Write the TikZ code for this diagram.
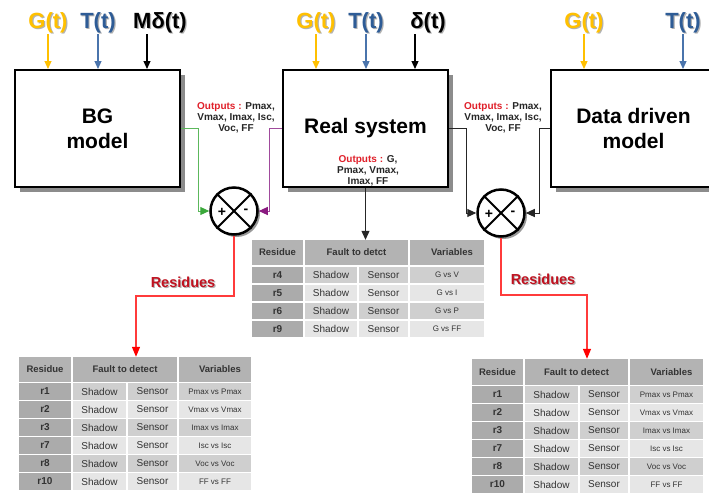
\documentclass[tikz,border=0pt]{standalone}
\usepackage{fontspec}
\setmainfont{Liberation Sans}
\usetikzlibrary{arrows.meta,calc,shadows}
\definecolor{gy}{HTML}{FFC000}
\definecolor{tb}{HTML}{2E5C96}
\definecolor{tbl}{HTML}{4A74AC}
\definecolor{gl}{HTML}{5CB85C}
\definecolor{gla}{HTML}{3AA83A}
\definecolor{mg}{HTML}{A04A9C}
\definecolor{mga}{HTML}{8A1A80}
\definecolor{rd}{HTML}{FF3B3B}
\definecolor{rdt}{HTML}{C0111F}
\definecolor{outr}{HTML}{E0202A}
\definecolor{hdr}{HTML}{B3B3B3}
\definecolor{rcol}{HTML}{ABABAB}
\definecolor{rowd}{HTML}{CFCFCF}
\definecolor{rowl}{HTML}{E6E6E6}
\definecolor{dk}{HTML}{333333}
\tikzset{
 blk/.style={draw, line width=2pt, fill=white, minimum width=165, minimum height=117, align=center,
   font=\bfseries\fontsize{21}{25}\selectfont,
   drop shadow={shadow xshift=5pt, shadow yshift=-5pt, opacity=1, fill=black!45}},
 inlab/.style={font=\bfseries\fontsize{22}{24}\selectfont, inner sep=1pt},
 labsh/.style={inlab, text=black!30},
 inarr/.style={line width=1.2pt, -{Triangle[length=8pt,width=7pt]}},
 outlab/.style={font=\bfseries\fontsize{10}{10.8}\selectfont, align=center, text=black!85, inner sep=0pt},
 sumc/.style={circle, draw, line width=2.5pt, fill=white, minimum size=47, inner sep=0pt,
   drop shadow={shadow xshift=2.5pt, shadow yshift=-2.5pt, opacity=1, fill=black!40}},
 conn/.style={line width=1pt},
 tip/.style={-{Triangle[length=9pt,width=8pt]}},
 redline/.style={line width=1.3pt, rd, -{Triangle[length=10pt,width=8pt,fill=red,color=red]}},
 reslab/.style={font=\bfseries\fontsize{14.5}{16}\selectfont, text=rdt},
 ressh/.style={font=\bfseries\fontsize{14.5}{16}\selectfont, text=black!30},
 tcellst/.style={inner sep=0pt, outer sep=0pt, text=dk, font=\fontsize{10}{12}\selectfont},
 pm/.style={font=\bfseries\fontsize{14}{14}\selectfont, inner sep=0pt}
}
\newcommand\tcell[7]{%
 \node[tcellst, fill=#6, minimum width={#4-#2-1.6}, minimum height={#5-#3-1.6}] (#1) at ({(#2+#4)/2},{(#3+#5)/2}) {#7};}
\newcommand\trow[6]{%
 \tcell{#1a}{\xa}{#2}{\xb}{#3}{rcol}{\bfseries #4}%
 \tcell{#1b}{\xb}{#2}{\xc}{#3}{#5}{Shadow}%
 \tcell{#1c}{\xc}{#2}{\xd}{#3}{#5}{Sensor}%
 \tcell{#1d}{\xd}{#2}{\xe}{#3}{#5}{\fontsize{8}{9}\selectfont #6}}
\newcommand\thead[4]{%
 \tcell{#1a}{\xa}{#2}{\xb}{#3}{hdr}{\bfseries\fontsize{9.5}{11}\selectfont Residue}%
 \tcell{#1b}{\xb}{#2}{\xd}{#3}{hdr}{\bfseries\fontsize{9.5}{11}\selectfont #4}%
 \tcell{#1d}{\xd}{#2}{\xe}{#3}{hdr}{\hspace*{10pt}\bfseries\fontsize{9.5}{11}\selectfont Variables}}
\begin{document}
\begin{tikzpicture}[x=1pt,y=-1pt]
\useasboundingbox (0,0) rectangle (709,493);
\clip (0,0) rectangle (709,493);
\fill[white] (0,0) rectangle (709,493);

% blocks
\node[blk] (bg) at (97.5,128.5) {BG\\model};
\node[blk] (real) at (365.5,128.5) {Real system};
\node[blk] (data) at (633.5,128.5) {Data driven\\model};

% input labels
\node[labsh] (gBGs) at (49.2,24.2) {G(t)};
\node[inlab, text=gy] (gBG) at (48,23) {G(t)};
\node[labsh] (tBGs) at (99.2,24.2) {T(t)};
\node[inlab, text=tb] (tBG) at (98,23) {T(t)};
\node[labsh] (mdBGs) at (161.2,24.2) {Mδ(t)};
\node[inlab] (mdBG) at (160,23) {Mδ(t)};

\node[labsh] (gRSs) at (317.2,24.2) {G(t)};
\node[inlab, text=gy] (gRS) at (316,23) {G(t)};
\node[labsh] (tRSs) at (367.2,24.2) {T(t)};
\node[inlab, text=tb] (tRS) at (366,23) {T(t)};
\node[labsh] (dRSs) at (429.2,24.2) {δ(t)};
\node[inlab] (dRS) at (428,23) {δ(t)};

\node[labsh] (gDDs) at (585.2,24.2) {G(t)};
\node[inlab, text=gy] (gDD) at (584,23) {G(t)};
\node[labsh] (tDDs) at (684.2,24.2) {T(t)};
\node[inlab, text=tb] (tDD) at (683,23) {T(t)};

\coordinate (mdA) at ($(mdBG.south)+(-13,0)$);
\coordinate (dA) at ($(dRS.south)+(-13,0)$);

\draw[inarr, gy] (gBG.south) -- (gBG.south |- bg.north);
\draw[inarr, tbl] (tBG.south) -- (tBG.south |- bg.north);
\draw[inarr] (mdA) -- (mdA |- bg.north);
\draw[inarr, gy] (gRS.south) -- (gRS.south |- real.north);
\draw[inarr, tbl] (tRS.south) -- (tRS.south |- real.north);
\draw[inarr] (dA) -- (dA |- real.north);
\draw[inarr, gy] (gDD.south) -- (gDD.south |- data.north);
\draw[inarr, tbl] (tDD.south) -- (tDD.south |- data.north);

% output labels
\node[outlab] (outL) at (236,118) {{\color{outr}Outputs :} Pmax,\\Vmax, Imax, Isc,\\Voc, FF};
\node[outlab] (outR) at (503,118) {{\color{outr}Outputs :} Pmax,\\Vmax, Imax, Isc,\\Voc, FF};
\node[outlab] (outB) at (368,171) {{\color{outr}Outputs :} G,\\Pmax, Vmax,\\Imax, FF};

% summing junctions
\node[sumc] (c1) at (234,211) {};
\node[sumc] (c2) at (501,213) {};
\foreach \c in {c1,c2}{
  \draw[line width=2pt] (\c.north west) -- (\c.south east);
  \draw[line width=2pt] (\c.north east) -- (\c.south west);
}
\node[pm] (p1) at ($(c1.center)+(-12,1)$) {+};
\node[pm] (m1) at ($(c1.center)+(12,0)$) {-};
\node[pm] (p2) at ($(c2.center)+(-12,1)$) {+};
\node[pm] (m2) at ($(c2.center)+(12,0)$) {-};

% connectors to junctions
\draw[conn, gl, -{Triangle[length=9pt,width=8pt,color=gla]}] (bg.east) -- ++(17,0) |- (c1.west);
\draw[conn, mg, -{Triangle[length=9pt,width=8pt,color=mga]}] (real.west) -- ++(-13,0) |- (c1.east);
\draw[conn, black!85, tip] (real.east) -- ++(17,0) |- (c2.west);
\draw[conn, black!85, tip] (data.west) -- ++(-11,0) |- (c2.east);

% tables
% middle
\def\xa{251}\def\xb{304}\def\xc{358}\def\xd{409}\def\xe{485}
\thead{mh}{239}{266}{Fault to detct}
\trow{m4}{266}{284}{r4}{rowd}{G vs V}
\trow{m5}{284}{302}{r5}{rowl}{G vs I}
\trow{m6}{302}{320}{r6}{rowd}{G vs P}
\trow{m9}{320}{338}{r9}{rowl}{G vs FF}
% left
\def\xa{18}\def\xb{72}\def\xc{127}\def\xd{178}\def\xe{252}
\thead{lh}{356}{382.5}{Fault to detect}
\trow{l1}{382.5}{400.5}{r1}{rowd}{Pmax vs Pmax}
\trow{l2}{400.5}{418.5}{r2}{rowl}{Vmax vs Vmax}
\trow{l3}{418.5}{436.5}{r3}{rowd}{Imax vs Imax}
\trow{l7}{436.5}{454.5}{r7}{rowl}{Isc vs Isc}
\trow{l8}{454.5}{472.5}{r8}{rowd}{Voc vs Voc}
\trow{l10}{472.5}{490.5}{r10}{rowl}{FF vs FF}
% right
\def\xa{471}\def\xb{524}\def\xc{579}\def\xd{629}\def\xe{704}
\thead{rh}{358}{385.5}{Fault to detect}
\trow{q1}{385.5}{403.5}{r1}{rowd}{Pmax vs Pmax}
\trow{q2}{403.5}{421.5}{r2}{rowl}{Vmax vs Vmax}
\trow{q3}{421.5}{439.5}{r3}{rowd}{Imax vs Imax}
\trow{q7}{439.5}{457.5}{r7}{rowl}{Isc vs Isc}
\trow{q8}{457.5}{475.5}{r8}{rowd}{Voc vs Voc}
\trow{q10}{475.5}{493.5}{r10}{rowl}{FF vs FF}

% real system to middle table
\draw[conn, black!85, tip] (real.south) -- (real.south |- mhb.north);

% residues
\coordinate (rb1) at (136,296);
\coordinate (rb2) at (587,295);
\draw[redline] (c1.south) |- (rb1) -- (rb1 |- lhb.north);
\draw[redline] (c2.south) |- (rb2) -- (rb2 |- rhb.north);
\node[ressh] (res1s) at (184.2,283.2) {Residues};
\node[reslab] (res1) at (183,282) {Residues};
\node[ressh] (res2s) at (544.2,280.2) {Residues};
\node[reslab] (res2) at (543,279) {Residues};
\end{tikzpicture}
\end{document}
